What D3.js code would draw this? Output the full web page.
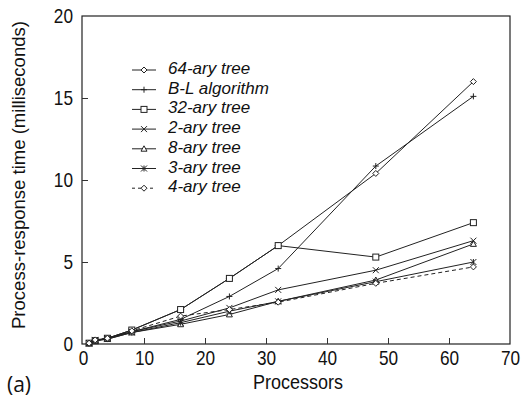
<!DOCTYPE html>
<html lang="en">
<head>
<meta charset="UTF-8">
<title>Process-response time</title>
<style>
  body { margin: 0; background: #fff; }
  svg text { font-family: "Liberation Sans", Arial, sans-serif; fill: #111; }
</style>
</head>
<body>
<div id="chart"></div>
<script src="https://cdn.jsdelivr.net/npm/d3@7"></script>
<script>
// processor counts
var procs = [1, 2, 4, 8, 16, 24, 32, 48, 64];

// series values (milliseconds)
var ary64 = [0.05, 0.2, 0.35, 0.85, 2.1, 4.0, 6.0, 10.4, 16.0];
var blAlg = [0.05, 0.2, 0.35, 0.75, 1.5, 2.9, 4.6, 10.85, 15.1];
var ary32 = [0.05, 0.2, 0.35, 0.85, 2.1, 4.0, 6.0, 5.3, 7.4];
var ary2  = [0.05, 0.25, 0.35, 0.75, 1.4, 2.2, 3.3, 4.5, 6.3];
var ary8  = [0.05, 0.2, 0.3, 0.7, 1.2, 1.8, 2.6, 3.9, 6.1];
var ary3  = [0.05, 0.2, 0.3, 0.7, 1.3, 2.0, 2.6, 3.8, 5.0];
var ary4  = [0.05, 0.25, 0.35, 0.8, 1.7, 2.1, 2.55, 3.7, 4.7];

var seriesNames = ["64-ary tree", "B-L algorithm", "32-ary tree", "2-ary tree", "8-ary tree", "3-ary tree", "4-ary tree"];
var seriesVals = [ary64, blAlg, ary32, ary2, ary8, ary3, ary4];
var markers = ["diamond", "plus", "square", "cross", "triangle", "star", "diamond"];
var dashed = [false, false, false, false, false, false, true];

var xTicks = [0, 10, 20, 30, 40, 50, 60, 70];
var yTicks = [0, 5, 10, 15, 20];

var width = 521, height = 400;
var margin = {top: 16, right: 11, bottom: 56, left: 82};

// the original uses a narrow face, so text is squeezed horizontally
var narrow = 0.82;

var svg = d3.select("#chart").append("svg")
  .attr("width", width)
  .attr("height", height);

var x = d3.scaleLinear().domain([0, 70]).range([margin.left + 1, width - margin.right]);
var y = d3.scaleLinear().domain([0, 20]).range([height - margin.bottom, margin.top]);

// frame
svg.append("rect")
  .attr("x", margin.left)
  .attr("y", margin.top)
  .attr("width", width - margin.right - margin.left)
  .attr("height", height - margin.bottom - margin.top)
  .attr("fill", "none")
  .attr("stroke", "#222")
  .attr("stroke-width", 1.2);

// bottom axis, ticks point inward
var xAxis = svg.append("g")
  .attr("transform", "translate(0," + y(0) + ")")
  .call(d3.axisBottom(x).tickValues(xTicks).tickSizeInner(-6).tickSizeOuter(0).tickPadding(6));
xAxis.select(".domain").remove();
xAxis.selectAll(".tick line").attr("stroke", "#333")
  .filter(function (d) { return d === 0 || d === 70; }).remove();
xAxis.selectAll("text")
  .attr("font-size", 21)
  .attr("transform", "scale(" + narrow + ",1)");

// left axis
var yAxis = svg.append("g")
  .attr("transform", "translate(" + margin.left + ",0)")
  .call(d3.axisLeft(y).tickValues(yTicks).tickSizeInner(-6).tickSizeOuter(0).tickPadding(11));
yAxis.select(".domain").remove();
yAxis.selectAll(".tick line").attr("stroke", "#333")
  .filter(function (d) { return d === 0 || d === 20; }).remove();
yAxis.selectAll("text")
  .attr("font-size", 21)
  .attr("transform", "scale(" + narrow + ",1)");

// axis titles
svg.append("text")
  .attr("x", 298)
  .attr("y", 389)
  .attr("text-anchor", "middle")
  .attr("font-size", 20)
  .attr("textLength", 90)
  .attr("lengthAdjust", "spacingAndGlyphs")
  .text("Processors");

svg.append("text")
  .attr("transform", "translate(25,175) rotate(-90)")
  .attr("text-anchor", "middle")
  .attr("font-size", 19)
  .attr("textLength", 308)
  .attr("lengthAdjust", "spacingAndGlyphs")
  .text("Process-response time (milliseconds)");

svg.append("text")
  .attr("x", 7)
  .attr("y", 392)
  .attr("font-size", 21)
  .style("font-family", "'Open Sans', 'DejaVu Sans', sans-serif")
  .text("(a)");

// marker drawing
function drawMarker(g, type, cx, cy) {
  var s = 3;
  if (type === "diamond") {
    g.append("path")
      .attr("d", "M" + cx + "," + (cy - s) + "L" + (cx + s) + "," + cy + "L" + cx + "," + (cy + s) + "L" + (cx - s) + "," + cy + "Z")
      .attr("fill", "#fff").attr("stroke", "#222");
  } else if (type === "square") {
    g.append("rect")
      .attr("x", cx - s).attr("y", cy - s).attr("width", 2 * s).attr("height", 2 * s)
      .attr("fill", "#fff").attr("stroke", "#222");
  } else if (type === "triangle") {
    g.append("path")
      .attr("d", "M" + cx + "," + (cy - s) + "L" + (cx + s) + "," + (cy + s * 0.8) + "L" + (cx - s) + "," + (cy + s * 0.8) + "Z")
      .attr("fill", "#fff").attr("stroke", "#222");
  } else if (type === "plus") {
    g.append("path")
      .attr("d", "M" + (cx - s) + "," + cy + "H" + (cx + s) + "M" + cx + "," + (cy - s) + "V" + (cy + s))
      .attr("stroke", "#222");
  } else if (type === "cross") {
    g.append("path")
      .attr("d", "M" + (cx - s) + "," + (cy - s) + "L" + (cx + s) + "," + (cy + s) + "M" + (cx - s) + "," + (cy + s) + "L" + (cx + s) + "," + (cy - s))
      .attr("stroke", "#222");
  } else if (type === "star") {
    g.append("path")
      .attr("d", "M" + (cx - s) + "," + (cy - s) + "L" + (cx + s) + "," + (cy + s) + "M" + (cx - s) + "," + (cy + s) + "L" + (cx + s) + "," + (cy - s) +
        "M" + cx + "," + (cy - s) + "V" + (cy + s))
      .attr("stroke", "#222");
  }
}

var line = d3.line()
  .x(function (d, i) { return x(procs[i]); })
  .y(function (d) { return y(d); });

// series
seriesVals.forEach(function (vals, k) {
  var g = svg.append("g");
  g.append("path")
    .datum(vals)
    .attr("d", line)
    .attr("fill", "none")
    .attr("stroke", "#222")
    .attr("stroke-width", 1)
    .attr("stroke-dasharray", dashed[k] ? "4,3" : null);
  vals.forEach(function (v, i) {
    drawMarker(g, markers[k], x(procs[i]), y(v));
  });
});

// legend
var legend = svg.append("g");
seriesNames.forEach(function (name, k) {
  var ly = 70 + k * 19.7;
  legend.append("line")
    .attr("x1", 132).attr("x2", 156)
    .attr("y1", ly).attr("y2", ly)
    .attr("stroke", "#222")
    .attr("stroke-dasharray", dashed[k] ? "3,3" : null);
  drawMarker(legend, markers[k], 144, ly);
  legend.append("text")
    .attr("x", 168)
    .attr("y", ly + 4)
    .attr("font-size", 17)
    .attr("font-style", "italic")
    .text(name);
});
</script>
</body>
</html>
